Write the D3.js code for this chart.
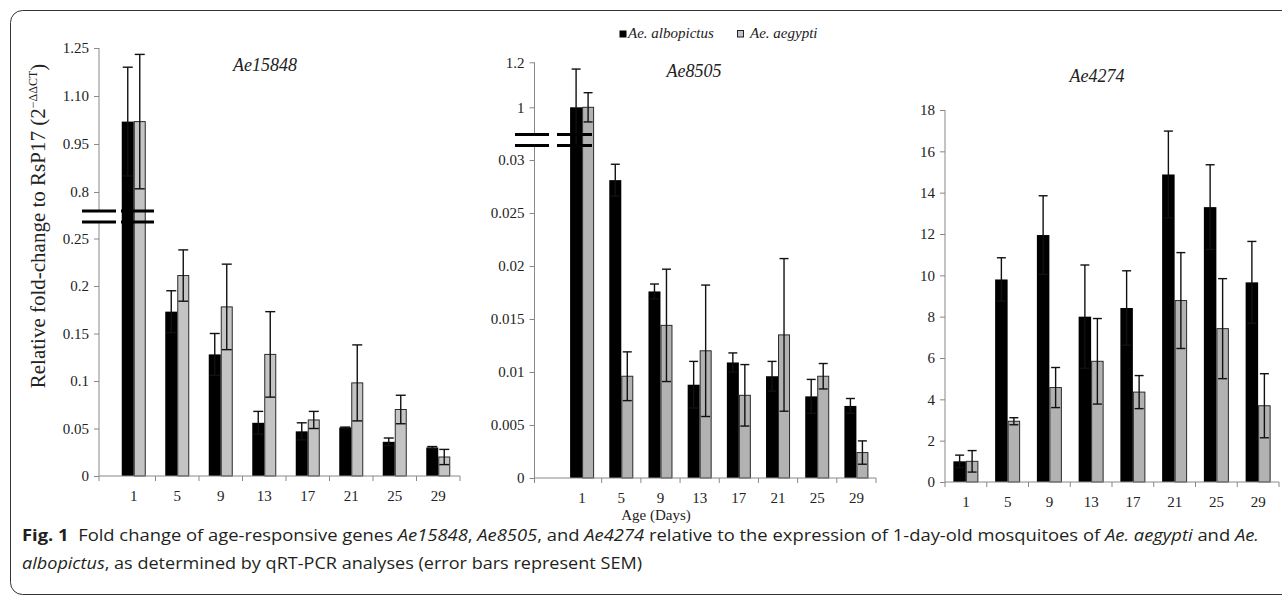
<!DOCTYPE html>
<html>
<head>
<meta charset="utf-8">
<script src="https://cdn.jsdelivr.net/npm/d3@7"></script>
<style>
  body { margin: 0; background: #fff; }
  svg text { white-space: pre; }
</style>
</head>
<body>
<svg id="drawing_region"></svg>
<script>
// ages (days) shared by all three panels
const days = [1, 5, 9, 13, 17, 21, 25, 29];

// Ae15848
const ae15848Alb    = [1.02, 0.173, 0.128, 0.056, 0.047, 0.051, 0.036, 0.030];
const ae15848AlbErr = [0.17, 0.022, 0.022, 0.012, 0.009, 0.0005, 0.004, 0.001];
const ae15848Aeg    = [1.02, 0.211, 0.178, 0.128, 0.059, 0.098, 0.070, 0.020];
const ae15848AegErr = [0.21, 0.027, 0.045, 0.045, 0.009, 0.040, 0.015, 0.008];

// Ae8505
const ae8505Alb    = [1.0, 0.0281, 0.0176, 0.0088, 0.0109, 0.0096, 0.0077, 0.0068];
const ae8505AlbErr = [0.17, 0.0015, 0.0007, 0.0022, 0.0009, 0.0014, 0.0016, 0.0007];
const ae8505Aeg    = [1.0, 0.0096, 0.0144, 0.0120, 0.0078, 0.0135, 0.0096, 0.0024];
const ae8505AegErr = [0.065, 0.0023, 0.0053, 0.0062, 0.0029, 0.0072, 0.0012, 0.0011];

// Ae4274
const ae4274Alb    = [1.0, 9.8, 11.95, 8.0, 8.42, 14.88, 13.3, 9.66];
const ae4274AlbErr = [0.3, 1.05, 1.9, 2.5, 1.8, 2.1, 2.05, 1.98];
const ae4274Aeg    = [1.0, 2.94, 4.57, 5.84, 4.35, 8.78, 7.42, 3.69];
const ae4274AegErr = [0.52, 0.17, 0.97, 2.07, 0.8, 2.32, 2.42, 1.55];

// tick labels
const p1LowerTicks = [0, 0.05, 0.1, 0.15, 0.2, 0.25];
const p1LowerLabels = ['0', '0.05', '0.1', '0.15', '0.2', '0.25'];
const p1UpperTicks = [0.8, 0.95, 1.10, 1.25];
const p1UpperLabels = ['0.8', '0.95', '1.10', '1.25'];
const p2LowerTicks = [0, 0.005, 0.01, 0.015, 0.02, 0.025, 0.03];
const p2LowerLabels = ['0', '0.005', '0.01', '0.015', '0.02', '0.025', '0.03'];
const p2UpperTicks = [1, 1.2];
const p2UpperLabels = ['1', '1.2'];
const p3Ticks = [0, 2, 4, 6, 8, 10, 12, 14, 16, 18];
const p3Labels = p3Ticks.map(String);

const serif = '"Liberation Serif", "Times New Roman", serif';

const svg = d3.select('#drawing_region')
    .attr('width', 1282)
    .attr('height', 597);

// frame
svg.append('rect')
    .attr('x', 10.5).attr('y', 10.5)
    .attr('width', 1290).attr('height', 584)
    .attr('rx', 12)
    .attr('fill', 'none')
    .attr('stroke', '#333')
    .attr('stroke-width', 1);

class BreakBarChart {

    constructor( config, alb, albErr, aeg, aegErr ) {
        this.config = config;
        this.data = [];
        days.forEach( (d, i) => {
            this.data.push({ day: d, key: 'alb', value: alb[i], err: albErr[i] });
            this.data.push({ day: d, key: 'aeg', value: aeg[i], err: aegErr[i] });
        });
        this.init();
    }

    init() {
        let self = this;
        const c = self.config;

        self.chart = svg.append('g');

        self.xscale = d3.scaleBand()
            .domain( days )
            .range( [c.x0, c.x1] );

        self.subscale = d3.scaleBand()
            .domain( ['alb', 'aeg'] )
            .range( [-c.barW, c.barW] );

        self.lower = d3.scaleLinear()
            .domain( [c.lowerTicks[0], c.lowerTicks[c.lowerTicks.length-1]] )
            .range( c.lowerRange );

        self.upper = c.upperTicks
            ? d3.scaleLinear()
                .domain( [c.upperTicks[0], c.upperTicks[c.upperTicks.length-1]] )
                .range( c.upperRange )
            : null;
    }

    y( v ) {
        if ( this.upper && v > this.config.split ) return this.upper( v );
        return this.lower( v );
    }

    render() {
        let self = this;
        const c = self.config;
        const base = self.lower(0);
        const cx = d => self.xscale(d.day) + self.xscale.bandwidth()/2;

        // bars
        self.chart.selectAll('rect.bar').data( self.data )
            .enter()
            .append('rect')
            .attr('class', 'bar')
            .attr('x', d => cx(d) + self.subscale(d.key) + (d.key == 'aeg' ? 0.5 : 0))
            .attr('y', d => self.y(d.value))
            .attr('width', d => self.subscale.bandwidth() - (d.key == 'aeg' ? 1 : 0))
            .attr('height', d => base - self.y(d.value))
            .attr('fill', d => d.key == 'alb' ? '#000' : c.gray)
            .attr('stroke', d => d.key == 'alb' ? 'none' : '#2a2a2a')
            .attr('stroke-width', 1);

        // error bars
        const errX = d => cx(d) + self.subscale(d.key) + self.subscale.bandwidth()/2;
        const eb = self.chart.selectAll('g.err').data( self.data )
            .enter()
            .append('g')
            .attr('class', 'err')
            .attr('stroke', '#111')
            .attr('stroke-width', 1.4);
        eb.append('line')
            .attr('x1', errX).attr('x2', errX)
            .attr('y1', d => self.y(d.value - d.err))
            .attr('y2', d => self.y(d.value + d.err));
        eb.append('line')
            .attr('x1', d => errX(d) - c.cap/2).attr('x2', d => errX(d) + c.cap/2)
            .attr('y1', d => self.y(d.value + d.err))
            .attr('y2', d => self.y(d.value + d.err));
        eb.append('line')
            .attr('x1', d => errX(d) - c.cap/2).attr('x2', d => errX(d) + c.cap/2)
            .attr('y1', d => self.y(d.value - d.err))
            .attr('y2', d => self.y(d.value - d.err));

        // y axes
        const styleAxis = g => {
            g.attr('font-family', serif);
            g.select('.domain').remove();
            g.selectAll('line').attr('stroke', '#888');
            g.selectAll('text')
                .attr('font-family', serif)
                .attr('font-size', 15)
                .attr('fill', '#222');
        };

        self.chart.append('g')
            .attr('transform', `translate(${c.axisX}, 0)`)
            .call( d3.axisLeft(self.lower)
                .tickValues(c.lowerTicks)
                .tickFormat((d, i) => c.lowerLabels[i])
                .tickSize(5).tickPadding(5) )
            .call( styleAxis );

        if ( self.upper ) {
            self.chart.append('g')
                .attr('transform', `translate(${c.axisX}, 0)`)
                .call( d3.axisLeft(self.upper)
                    .tickValues(c.upperTicks)
                    .tickFormat((d, i) => c.upperLabels[i])
                    .tickSize(5).tickPadding(5) )
                .call( styleAxis );
        }

        // y axis line (cut at the break)
        const topLower = self.upper ? c.breakY[1] : self.lower.range()[1];
        self.chart.append('line')
            .attr('x1', c.axisX).attr('x2', c.axisX)
            .attr('y1', base + 5).attr('y2', topLower)
            .attr('stroke', '#888');
        if ( self.upper ) {
            self.chart.append('line')
                .attr('x1', c.axisX).attr('x2', c.axisX)
                .attr('y1', c.breakY[0]).attr('y2', self.upper.range()[1])
                .attr('stroke', '#888');
        }

        // x axis line + boundary ticks
        self.chart.append('line')
            .attr('x1', c.axisX).attr('x2', c.x1)
            .attr('y1', base).attr('y2', base)
            .attr('stroke', '#888');
        self.chart.selectAll('line.xtick').data( days )
            .enter()
            .append('line')
            .attr('class', 'xtick')
            .attr('x1', d => self.xscale(d) + self.xscale.step())
            .attr('x2', d => self.xscale(d) + self.xscale.step())
            .attr('y1', base).attr('y2', base + 5)
            .attr('stroke', '#888');

        self.chart.append('g')
            .attr('transform', `translate(0, ${base})`)
            .call( d3.axisBottom(self.xscale).tickSize(0).tickPadding(14) )
            .call( styleAxis );

        // break marks
        if ( c.breakY ) {
            c.breakY.forEach( by => {
                c.breakSpans.forEach( s => {
                    self.chart.append('line')
                        .attr('x1', s[0]).attr('x2', s[1])
                        .attr('y1', by).attr('y2', by)
                        .attr('stroke', '#000')
                        .attr('stroke-width', 3);
                });
            });
        }

        // title
        self.chart.append('text')
            .attr('x', c.titleX).attr('y', c.titleY)
            .attr('text-anchor', 'middle')
            .attr('font-family', serif)
            .attr('font-style', 'italic')
            .attr('font-size', 18)
            .attr('fill', '#222')
            .text( c.title );
    }
}

const p1 = new BreakBarChart({
    title: 'Ae15848', titleX: 265, titleY: 71,
    axisX: 99, x0: 112, x1: 460, barW: 12, cap: 10, gray: '#c4c4c4',
    lowerTicks: p1LowerTicks, lowerLabels: p1LowerLabels, lowerRange: [476, 238.5],
    upperTicks: p1UpperTicks, upperLabels: p1UpperLabels, upperRange: [192, 48],
    split: 0.5, breakY: [211, 222], breakSpans: [[82, 116], [121, 154]]
}, ae15848Alb, ae15848AlbErr, ae15848Aeg, ae15848AegErr);
p1.render();

const p2 = new BreakBarChart({
    title: 'Ae8505', titleX: 694, titleY: 77,
    axisX: 534.5, x0: 562.5, x1: 876, barW: 12, cap: 9, gray: '#b2b2b2',
    lowerTicks: p2LowerTicks, lowerLabels: p2LowerLabels, lowerRange: [478, 160],
    upperTicks: p2UpperTicks, upperLabels: p2UpperLabels, upperRange: [107.3, 62.3],
    split: 0.5, breakY: [134.5, 145.5], breakSpans: [[515, 549], [557, 592]]
}, ae8505Alb, ae8505AlbErr, ae8505Aeg, ae8505AegErr);
p2.render();

const p3 = new BreakBarChart({
    title: 'Ae4274', titleX: 1097, titleY: 82,
    axisX: 945, x0: 945, x1: 1279, barW: 12.5, cap: 9, gray: '#b2b2b2',
    lowerTicks: p3Ticks, lowerLabels: p3Labels, lowerRange: [482, 110]
}, ae4274Alb, ae4274AlbErr, ae4274Aeg, ae4274AegErr);
p3.render();

// legend
const legend = svg.append('g')
    .attr('font-family', serif)
    .attr('font-style', 'italic')
    .attr('font-size', 15)
    .attr('fill', '#222');
legend.append('rect').attr('x', 619.5).attr('y', 30.5).attr('width', 7).attr('height', 7).attr('fill', '#000');
legend.append('text').attr('x', 628).attr('y', 37.5).text('Ae. albopictus');
legend.append('rect').attr('x', 737.5).attr('y', 30.5).attr('width', 6).attr('height', 6.5)
    .attr('fill', '#c4c4c4').attr('stroke', '#222');
legend.append('text').attr('x', 750).attr('y', 37.5).text('Ae. aegypti');

// shared axis titles
const ylab = svg.append('text')
    .attr('transform', 'translate(45, 226) rotate(-90)')
    .attr('text-anchor', 'middle')
    .attr('font-family', serif)
    .attr('font-size', 21)
    .attr('fill', '#222');
ylab.append('tspan').text('Relative fold-change to RsP17 (2');
ylab.append('tspan').attr('dy', -8).attr('font-size', 12).text('−ΔΔCT');
ylab.append('tspan').attr('dy', 8).text(')');

svg.append('text')
    .attr('x', 656).attr('y', 520)
    .attr('text-anchor', 'middle')
    .attr('font-family', serif)
    .attr('font-size', 15)
    .attr('fill', '#222')
    .text('Age (Days)');

// caption
const captionLines = [
    { len: 1237, y: 541, parts: [
        ['Fig. 1', 'b'], ['  Fold change of age-responsive genes ', ''], ['Ae15848', 'i'], [', ', ''],
        ['Ae8505', 'i'], [', and ', ''], ['Ae4274', 'i'],
        [' relative to the expression of 1-day-old mosquitoes of ', ''], ['Ae. aegypti', 'i'],
        [' and ', ''], ['Ae.', 'i'] ] },
    { len: 620, y: 569, parts: [
        ['albopictus', 'i'], [', as determined by qRT-PCR analyses (error bars represent SEM)', ''] ] }
];
captionLines.forEach( l => {
    const t = svg.append('text')
        .attr('x', 22).attr('y', l.y)
        .attr('font-family', '"Open Sans", "Noto Sans", sans-serif')
        .attr('font-size', 15.5)
        .attr('fill', '#231f20')
        .attr('textLength', l.len)
        .attr('lengthAdjust', 'spacingAndGlyphs');
    l.parts.forEach( p => {
        t.append('tspan')
            .attr('font-weight', p[1] == 'b' ? 'bold' : null)
            .attr('font-style', p[1] == 'i' ? 'italic' : null)
            .text( p[0] );
    });
});
</script>
</body>
</html>
